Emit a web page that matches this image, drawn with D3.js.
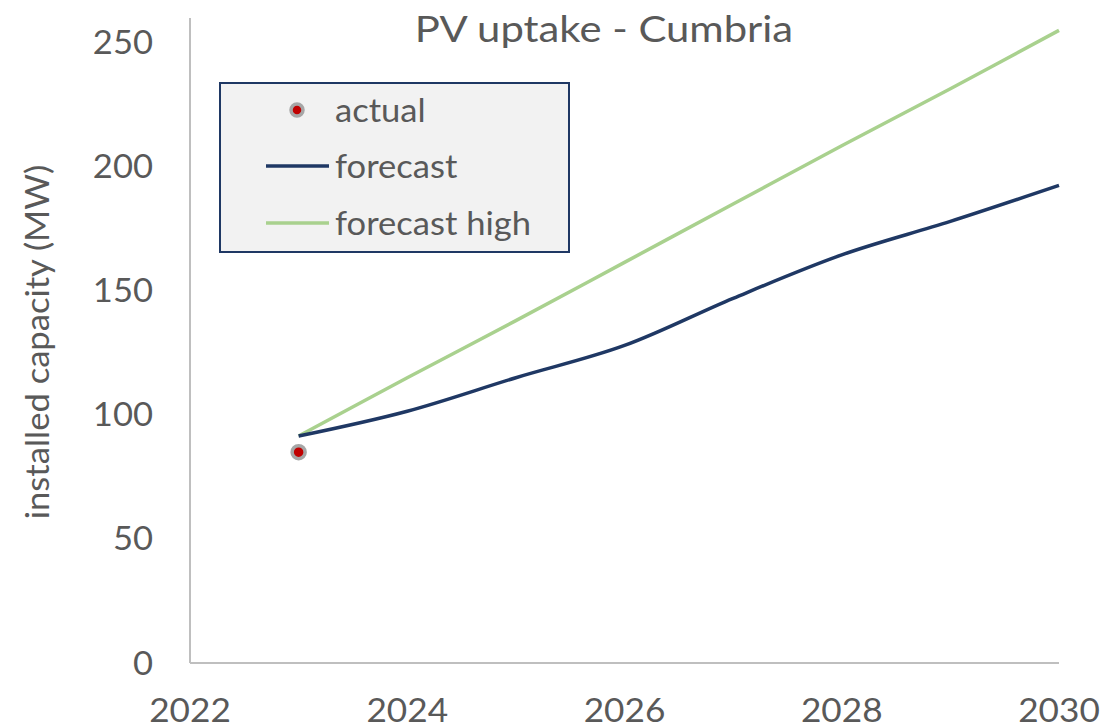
<!DOCTYPE html>
<html>
<head>
<meta charset="utf-8">
<script src="https://cdn.jsdelivr.net/npm/d3@7"></script>
<style>
  body { margin: 0; background: #fff; }
  text { font-family: Lato, "Open Sans", sans-serif; fill: #595959; }
</style>
</head>
<body>
<svg id="chart" width="1102" height="728"></svg>
<script>
// data
var years = [2023, 2024, 2025, 2026, 2027, 2028, 2029, 2030];
var forecast = [91.5, 101.5, 115, 128, 147, 164.5, 178, 192.5];
var forecastHigh = [91.5, 115, 138, 161.5, 185, 208.5, 231.5, 255];
var actualYears = [2023];
var actual = [85];
var xTicks = [2022, 2024, 2026, 2028, 2030];
var yTicks = [0, 50, 100, 150, 200, 250];

var svg = d3.select("#chart");
var plotL = 190, plotR = 1059, plotT = 18, plotB = 663;

var x = d3.scaleLinear().domain([2022, 2030]).range([plotL, plotR]);
var y = d3.scaleLinear().domain([0, 260]).range([plotB, plotT]);

// widen glyphs a bit, the source font is wider than Lato
function stretch(sel, k) {
    sel.each(function(){
        var w = this.getComputedTextLength();
        d3.select(this).attr("textLength", w * k).attr("lengthAdjust", "spacingAndGlyphs");
    });
}

// axis lines
svg.append("line").attr("x1", plotL).attr("x2", plotL).attr("y1", plotT).attr("y2", plotB)
    .attr("stroke", "#bfbfbf").attr("stroke-width", 2);
svg.append("line").attr("x1", plotL).attr("x2", plotR).attr("y1", plotB).attr("y2", plotB)
    .attr("stroke", "#bfbfbf").attr("stroke-width", 2);

// tick labels
svg.selectAll(".ytick").data(yTicks).enter().append("text")
    .attr("class", "ytick")
    .attr("x", 153).attr("y", function(d){ return y(d); })
    .attr("dy", "0.36em").attr("text-anchor", "end")
    .style("font-size", "32px")
    .text(function(d){ return d; })
    .call(stretch, 1.08);
svg.selectAll(".xtick").data(xTicks).enter().append("text")
    .attr("class", "xtick")
    .attr("x", function(d){ return x(d); }).attr("y", 722)
    .attr("text-anchor", "middle")
    .style("font-size", "32px")
    .text(function(d){ return d; })
    .call(stretch, 1.1);

// title + axis title
svg.append("text").attr("x", 604).attr("y", 42).attr("text-anchor", "middle")
    .style("font-size", "37px").text("PV uptake - Cumbria")
    .call(stretch, 1.13);
svg.append("text").attr("transform", "translate(49,342) rotate(-90)")
    .attr("text-anchor", "middle").style("font-size", "32px")
    .text("installed capacity (MW)")
    .call(stretch, 1.08);

// lines
var line = function(vals){
    return d3.line()
        .x(function(d, i){ return x(years[i]); })
        .y(function(d){ return y(d); })
        .curve(d3.curveCardinal.tension(0))(vals);
};
svg.append("path").attr("d", line(forecastHigh)).attr("fill", "none")
    .attr("stroke", "#a9d18e").attr("stroke-width", 3.5);
svg.append("path").attr("d", line(forecast)).attr("fill", "none")
    .attr("stroke", "#1f3864").attr("stroke-width", 3.5);

// actual marker
svg.selectAll(".actual").data(actual).enter().append("circle")
    .attr("class", "actual")
    .attr("cx", function(d, i){ return x(actualYears[i]); })
    .attr("cy", function(d){ return y(d); })
    .attr("r", 6.5).attr("fill", "#c00000")
    .attr("stroke", "#a6a6a6").attr("stroke-width", 3.5);

// legend
var lg = svg.append("g");
lg.append("rect").attr("x", 220).attr("y", 83).attr("width", 349).attr("height", 169)
    .attr("fill", "#f2f2f2").attr("stroke", "#1f3864").attr("stroke-width", 2);
lg.append("circle").attr("cx", 297).attr("cy", 110).attr("r", 6)
    .attr("fill", "#c00000").attr("stroke", "#a6a6a6").attr("stroke-width", 3.5);
lg.append("line").attr("x1", 266).attr("x2", 329).attr("y1", 166).attr("y2", 166)
    .attr("stroke", "#1f3864").attr("stroke-width", 3.5);
lg.append("line").attr("x1", 266).attr("x2", 329).attr("y1", 223).attr("y2", 223)
    .attr("stroke", "#a9d18e").attr("stroke-width", 3.5);
var labels = ["actual", "forecast", "forecast high"];
lg.selectAll(".lgtext").data(labels).enter().append("text")
    .attr("class", "lgtext")
    .attr("x", 335).attr("y", function(d, i){ return 110 + i * 56.5; })
    .attr("dy", "0.36em").style("font-size", "32px")
    .text(function(d){ return d; })
    .call(stretch, 1.08);
</script>
</body>
</html>
